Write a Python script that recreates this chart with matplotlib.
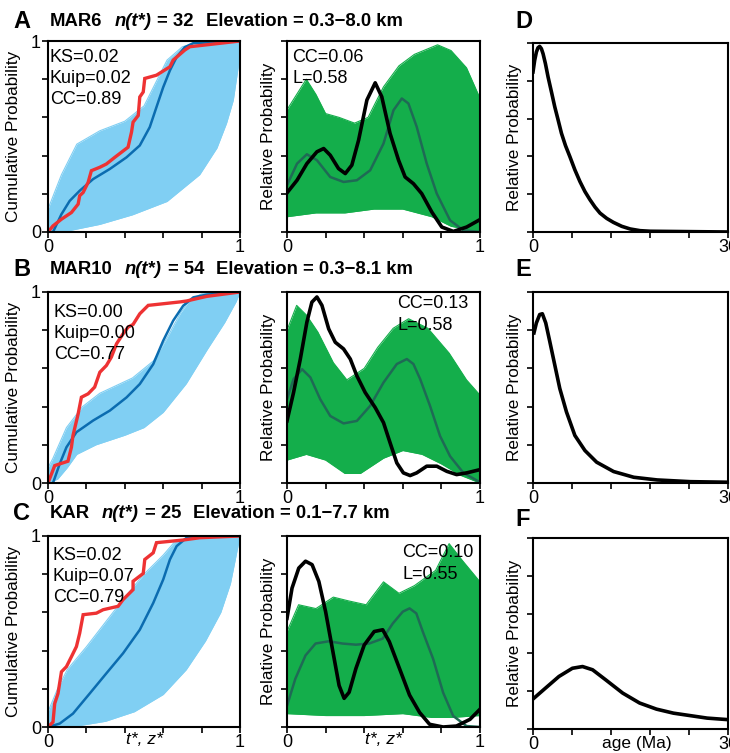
import numpy as np
import matplotlib
matplotlib.use('Agg')
import matplotlib.pyplot as plt

plt.rcParams['font.family'] = ['Liberation Sans', 'DejaVu Sans']

# ---------------- data ----------------
samples = ['MAR6', 'MAR10', 'KAR']
n_t = [32, 54, 25]
elev = ['0.3\u22128.0', '0.3\u22128.1', '0.1\u22127.7']
ks = ['0.02', '0.00', '0.02']
kuip = ['0.02', '0.00', '0.07']
cc_cdf = ['0.89', '0.77', '0.79']
cc_pdf = ['0.06', '0.13', '0.10']
l_pdf = ['0.58', '0.58', '0.55']

# observed cumulative curves (red)
red_x = [
    [0, 0.026, 0.07, 0.122, 0.157, 0.165, 0.183, 0.209, 0.226, 0.27, 0.304, 0.348, 0.417, 0.435,
     0.443, 0.47, 0.478, 0.496, 0.504, 0.565, 0.635, 0.652, 0.713, 0.739, 1.0],
    [0, 0.035, 0.061, 0.104, 0.122, 0.13, 0.157, 0.174, 0.209, 0.243, 0.27, 0.304, 0.33, 0.357,
     0.391, 0.417, 0.443, 0.478, 0.522, 0.687, 0.722, 0.774, 0.826, 1.0],
    [0, 0.026, 0.035, 0.052, 0.07, 0.096, 0.122, 0.148, 0.165, 0.183, 0.252, 0.287, 0.365, 0.391,
     0.443, 0.443, 0.496, 0.504, 0.548, 0.565, 0.704, 0.791, 1.0],
]
red_y = [
    [0, 0.032, 0.067, 0.102, 0.146, 0.19, 0.207, 0.26, 0.321, 0.339, 0.356, 0.391, 0.444, 0.523,
     0.575, 0.61, 0.707, 0.733, 0.804, 0.821, 0.865, 0.9, 0.953, 0.97, 1.0],
    [0, 0.091, 0.1, 0.114, 0.187, 0.248, 0.362, 0.449, 0.467, 0.502, 0.58, 0.615, 0.659, 0.729,
     0.781, 0.816, 0.83, 0.886, 0.93, 0.948, 0.953, 0.965, 0.977, 1.0],
    [0, 0.026, 0.123, 0.175, 0.289, 0.316, 0.368, 0.421, 0.491, 0.588, 0.596, 0.614, 0.632, 0.667,
     0.719, 0.763, 0.804, 0.877, 0.912, 0.965, 0.979, 0.991, 1.0],
]

# mean predicted cumulative curves (blue)
mean_cdf_x = [
    [0.026, 0.07, 0.113, 0.165, 0.235, 0.322, 0.409, 0.478, 0.53, 0.565, 0.6, 0.635, 0.67, 0.713, 0.757, 1.0],
    [0.026, 0.061, 0.096, 0.148, 0.235, 0.322, 0.409, 0.478, 0.548, 0.6, 0.652, 0.704, 0.757, 0.826, 1.0],
    [0, 0.061, 0.13, 0.217, 0.304, 0.391, 0.478, 0.548, 0.6, 0.635, 0.67, 0.722, 0.791, 1.0],
]
mean_cdf_y = [
    [0, 0.093, 0.163, 0.216, 0.277, 0.33, 0.391, 0.453, 0.549, 0.654, 0.758, 0.846, 0.916, 0.968, 0.989, 1.0],
    [0, 0.1, 0.187, 0.266, 0.327, 0.379, 0.448, 0.518, 0.622, 0.745, 0.85, 0.928, 0.972, 0.986, 1.0],
    [0, 0.018, 0.07, 0.175, 0.281, 0.386, 0.509, 0.649, 0.772, 0.877, 0.947, 0.991, 1.0, 1.0],
]

# spread of predicted cumulative curves (light blue)
cdf_hi_x = [
    [0, 0.07, 0.15, 0.27, 0.4, 0.5, 0.57, 0.62, 0.7, 0.8, 1.0],
    [0, 0.026, 0.096, 0.18, 0.27, 0.44, 0.55, 0.62, 0.69, 0.74, 0.8, 1.0],
    [0, 0.05, 0.1, 0.2, 0.3, 0.4, 0.5, 0.6, 0.66, 0.75, 1.0],
]
cdf_hi_y = [
    [0.12, 0.3, 0.46, 0.53, 0.58, 0.66, 0.8, 0.9, 0.97, 0.995, 1.0],
    [0.08, 0.13, 0.29, 0.4, 0.47, 0.55, 0.64, 0.76, 0.89, 0.96, 0.99, 1.0],
    [0.08, 0.2, 0.3, 0.42, 0.55, 0.68, 0.8, 0.9, 0.97, 0.99, 1.0],
]
cdf_lo_x = [
    [0, 0.1, 0.27, 0.44, 0.62, 0.79, 0.88, 0.93, 0.965, 0.99, 1.0],
    [0, 0.05, 0.1, 0.15, 0.25, 0.4, 0.5, 0.6, 0.72, 0.83, 0.92, 0.98, 1.0],
    [0, 0.15, 0.3, 0.45, 0.6, 0.72, 0.82, 0.9, 0.95, 0.98, 1.0],
]
cdf_lo_y = [
    [0, 0.005, 0.04, 0.09, 0.16, 0.3, 0.44, 0.57, 0.69, 0.86, 1.0],
    [0, 0.02, 0.08, 0.15, 0.2, 0.25, 0.29, 0.37, 0.52, 0.7, 0.84, 0.95, 1.0],
    [0, 0.005, 0.03, 0.08, 0.17, 0.3, 0.45, 0.6, 0.75, 0.9, 1.0],
]

# observed relative probability (black)
obs_x = [
    [0, 0.052, 0.103, 0.155, 0.19, 0.224, 0.267, 0.302, 0.336, 0.371, 0.414, 0.457, 0.491, 0.534,
     0.578, 0.612, 0.655, 0.698, 0.75, 0.802, 0.862, 0.931, 1.0],
    [0, 0.034, 0.069, 0.103, 0.129, 0.155, 0.181, 0.216, 0.25, 0.293, 0.328, 0.362, 0.405, 0.457,
     0.5, 0.534, 0.569, 0.603, 0.638, 0.672, 0.724, 0.776, 0.828, 0.879, 0.931, 1.0],
    [0, 0.026, 0.061, 0.096, 0.13, 0.165, 0.2, 0.235, 0.27, 0.296, 0.322, 0.357, 0.4, 0.452,
     0.496, 0.53, 0.583, 0.635, 0.687, 0.739, 0.809, 0.878, 0.948, 1.0],
]
obs_y = [
    [0.205, 0.271, 0.358, 0.42, 0.437, 0.402, 0.332, 0.306, 0.35, 0.481, 0.691, 0.781, 0.708, 0.516,
     0.376, 0.288, 0.253, 0.201, 0.105, 0.026, 0.003, 0.026, 0.065],
    [0.325, 0.474, 0.649, 0.842, 0.947, 0.974, 0.93, 0.807, 0.737, 0.702, 0.649, 0.561, 0.474, 0.395,
     0.316, 0.211, 0.105, 0.053, 0.039, 0.053, 0.088, 0.088, 0.061, 0.044, 0.053, 0.07],
    [0.569, 0.727, 0.832, 0.868, 0.85, 0.762, 0.604, 0.41, 0.217, 0.15, 0.182, 0.306, 0.429, 0.5,
     0.509, 0.447, 0.306, 0.167, 0.076, 0.014, 0.0, 0.005, 0.04, 0.093],
]

# mean predicted relative probability (dark green)
mean_pdf_x = [
    [0, 0.052, 0.103, 0.155, 0.224, 0.293, 0.362, 0.431, 0.5, 0.552, 0.595, 0.629, 0.672, 0.724,
     0.776, 0.845, 0.914, 1.0],
    [0, 0.034, 0.078, 0.121, 0.172, 0.224, 0.293, 0.362, 0.431, 0.5, 0.569, 0.621, 0.655, 0.69,
     0.741, 0.793, 0.845, 0.914, 1.0],
    [0, 0.043, 0.096, 0.148, 0.217, 0.287, 0.357, 0.426, 0.496, 0.548, 0.6, 0.635, 0.67, 0.704,
     0.757, 0.809, 0.861, 0.93, 1.0],
]
mean_pdf_y = [
    [0.245, 0.358, 0.407, 0.376, 0.288, 0.262, 0.271, 0.323, 0.463, 0.638, 0.699, 0.673, 0.551, 0.358,
     0.201, 0.061, 0.009, 0.0],
    [0.439, 0.544, 0.596, 0.553, 0.439, 0.351, 0.312, 0.325, 0.404, 0.526, 0.623, 0.649, 0.623, 0.544,
     0.404, 0.246, 0.14, 0.053, 0.004],
    [0.111, 0.252, 0.375, 0.437, 0.449, 0.437, 0.431, 0.437, 0.463, 0.542, 0.604, 0.621, 0.595, 0.498,
     0.357, 0.18, 0.058, 0.005, 0.0],
]

# spread of predicted relative probability (green)
pdf_hi_x = [
    [0, 0.05, 0.1, 0.15, 0.2, 0.27, 0.35, 0.42, 0.5, 0.58, 0.66, 0.78, 0.85, 0.93, 1.0],
    [0, 0.05, 0.1, 0.16, 0.24, 0.31, 0.4, 0.47, 0.55, 0.63, 0.73, 0.84, 0.93, 1.0],
    [0, 0.06, 0.15, 0.24, 0.32, 0.41, 0.5, 0.58, 0.66, 0.77, 0.84, 0.91, 1.0],
]
pdf_hi_y = [
    [0.64, 0.72, 0.8, 0.72, 0.62, 0.6, 0.57, 0.6, 0.76, 0.87, 0.93, 0.98, 0.95, 0.86, 0.7],
    [0.8, 0.93, 0.88, 0.79, 0.63, 0.54, 0.6, 0.71, 0.81, 0.86, 0.81, 0.68, 0.54, 0.46],
    [0.5, 0.64, 0.62, 0.68, 0.66, 0.64, 0.76, 0.7, 0.74, 0.82, 0.96, 0.87, 0.76],
]
pdf_lo_x = [
    [0, 0.15, 0.3, 0.45, 0.6, 0.75, 0.85, 0.95, 1.0],
    [0, 0.1, 0.2, 0.3, 0.38, 0.5, 0.6, 0.7, 0.8, 0.9, 1.0],
    [0, 0.2, 0.4, 0.6, 0.75, 0.85, 1.0],
]
pdf_lo_y = [
    [0.08, 0.1, 0.1, 0.12, 0.12, 0.08, 0.03, 0.01, 0.0],
    [0.12, 0.15, 0.12, 0.05, 0.05, 0.13, 0.17, 0.15, 0.1, 0.04, 0.0],
    [0.07, 0.06, 0.06, 0.07, 0.05, 0.05, 0.06],
]

# age distributions (right column)
age_x = [
    [0, 0.26, 0.52, 0.77, 1.03, 1.29, 1.55, 1.91, 2.32, 2.84, 3.35, 3.87, 4.38, 5.0, 5.67, 6.44,
     7.22, 7.99, 8.76, 9.54, 10.31, 11.34, 12.37, 13.66, 14.95, 16.49, 18.04, 30.0],
    [0.15, 0.52, 1.03, 1.44, 1.96, 2.58, 3.35, 4.12, 5.15, 6.44, 7.99, 9.79, 12.4, 15.5, 19.1, 24.2, 30.0],
    [0, 1.92, 3.99, 6.06, 7.62, 9.17, 11.2, 13.8, 16.4, 19.0, 21.6, 24.2, 26.8, 30.0],
]
age_y = [
    [0.847, 0.909, 0.952, 0.975, 0.982, 0.970, 0.943, 0.891, 0.82, 0.741, 0.662, 0.592, 0.522, 0.457,
     0.399, 0.329, 0.267, 0.214, 0.171, 0.132, 0.1, 0.072, 0.051, 0.03, 0.016, 0.007, 0.004, 0.0],
    [0.786, 0.838, 0.882, 0.886, 0.838, 0.741, 0.618, 0.495, 0.372, 0.249, 0.17, 0.109, 0.06, 0.03,
     0.016, 0.007, 0.004],
    [0.157, 0.214, 0.275, 0.318, 0.327, 0.31, 0.257, 0.188, 0.136, 0.104, 0.083, 0.07, 0.057, 0.049],
]

row_letters = ['A', 'B', 'C']
right_letters = ['D', 'E', 'F']

# ---------------- layout ----------------
W, H = 730, 753
fig = plt.figure(figsize=(W / 100, H / 100), dpi=100)

def px_axes(left, top, right, bottom):
    return fig.add_axes([left / W, 1 - bottom / H, (right - left) / W, (bottom - top) / H])

row_tops = [41, 292, 536]
row_bots = [232, 483, 727]
title_y = [21, 270, 514]
right_tops = [43, 292, 538]
right_bots = [232, 483, 729]
right_letter_y = [21, 270, 519]

LIGHT_BLUE = '#80CFF3'
BLUE = '#0B6CB0'
RED = '#EE3233'
GREEN = '#14AE4B'
DARK_GREEN = '#1F6A55'

def style(ax, xmax, xticks, xlabels):
    for s in ax.spines.values():
        s.set_linewidth(1.5)
        s.set_zorder(10)
    ax.set_xlim(0, xmax)
    ax.set_ylim(0, 1)
    ax.set_xticks(xticks)
    ax.set_xticklabels(xlabels)
    ax.set_yticks(np.linspace(0, 1, 6))
    ax.tick_params(direction='out', length=4, width=1.2, labelsize=13, pad=1)

def ylab(ax, text, xpos):
    ax.text(xpos, 0.5, text, transform=ax.transAxes, rotation=90,
            ha='center', va='center', fontsize=12.3)

tick01 = ['0', '', '', '', '', '1']

for i in range(3):
    top, bot = row_tops[i], row_bots[i]

    # title pieces
    fig.text(13 / W, 1 - title_y[i] / H, row_letters[i], fontsize=17, fontweight='bold',
             va='center', ha='left')
    fig.canvas.draw()
    rend = fig.canvas.get_renderer()
    x = 50
    pieces = [(samples[i], 'normal'), ('n(t*)', 'italic'),
              ('= %d' % n_t[i], 'normal'), ('Elevation = %s km' % elev[i], 'normal')]
    gaps = [12, 6, 12, 0]
    for (txt, st), g in zip(pieces, gaps):
        t = fig.text(x / W, 1 - title_y[i] / H, txt, fontsize=13.3, fontweight='bold',
                     style=st, va='center', ha='left')
        bb = t.get_window_extent(renderer=rend)
        x = bb.x1 + g

    # cumulative panel
    ax = px_axes(48, top, 240, bot)
    gx = np.linspace(0, 1, 201)
    lo = np.interp(gx, cdf_lo_x[i], cdf_lo_y[i])
    hi = np.interp(gx, cdf_hi_x[i], cdf_hi_y[i])
    ax.fill_between(gx, lo, hi, color=LIGHT_BLUE, lw=0)
    ax.plot(cdf_lo_x[i], cdf_lo_y[i], color=LIGHT_BLUE, lw=0.8)
    ax.plot(cdf_hi_x[i], cdf_hi_y[i], color=LIGHT_BLUE, lw=0.8)
    ax.plot(mean_cdf_x[i], mean_cdf_y[i], color=BLUE, lw=1.8)
    ax.plot(red_x[i], red_y[i], color=RED, lw=2.4, solid_joinstyle='miter')
    style(ax, 1, np.linspace(0, 1, 6), tick01)
    ax.set_yticklabels(tick01)
    ylab(ax, 'Cumulative Probability', -0.182)
    sx = [0.01, 0.03, 0.026][i]
    sy = [0.916, 0.895, 0.90][i]
    for k, s in enumerate(['KS=' + ks[i], 'Kuip=' + kuip[i], 'CC=' + cc_cdf[i]]):
        ax.text(sx, sy - k * 0.112, s, transform=ax.transAxes, fontsize=13,
                ha='left', va='center', zorder=20)

    # relative probability panel
    ax2 = px_axes(287, top, 480, bot)
    lo = np.interp(gx, pdf_lo_x[i], pdf_lo_y[i])
    hi = np.interp(gx, pdf_hi_x[i], pdf_hi_y[i])
    ax2.fill_between(gx, lo, hi, color=GREEN, lw=0)
    ax2.plot(pdf_hi_x[i], pdf_hi_y[i], color=GREEN, lw=0.8)
    ax2.plot(pdf_lo_x[i], pdf_lo_y[i], color=GREEN, lw=0.8)
    ax2.plot(mean_pdf_x[i], mean_pdf_y[i], color=DARK_GREEN, lw=1.8)
    ax2.plot(obs_x[i], obs_y[i], color='black', lw=2.6)
    style(ax2, 1, np.linspace(0, 1, 6), tick01)
    ax2.set_yticklabels([])
    ylab(ax2, 'Relative Probability', -0.098)
    cx = [0.026, 0.57, 0.596][i]
    cy = [(0.916, 0.806), (0.942, 0.822), (0.916, 0.80)][i]
    ax2.text(cx, cy[0], 'CC=' + cc_pdf[i], transform=ax2.transAxes, fontsize=13,
             ha='left', va='center', zorder=20)
    ax2.text(cx, cy[1], 'L=' + l_pdf[i], transform=ax2.transAxes, fontsize=13,
             ha='left', va='center', zorder=20)

    # age panel
    ax3 = px_axes(533, right_tops[i], 728, right_bots[i])
    ax3.plot(age_x[i], age_y[i], color='black', lw=2.6)
    style(ax3, 30, np.linspace(0, 30, 6), ['0', '', '', '', '', '30'])
    ax3.set_yticklabels([])
    ylab(ax3, 'Relative Probability', -0.093)
    fig.text(515 / W, 1 - right_letter_y[i] / H, right_letters[i], fontsize=17,
             fontweight='bold', va='center', ha='left')

    if i == 2:
        for a in (ax, ax2):
            a.text(0.5, -0.068, 't*, z*', transform=a.transAxes, fontsize=12.5,
                   style='italic', ha='center', va='center')
        ax3.text(0.53, -0.075, 'age (Ma)', transform=ax3.transAxes, fontsize=12.5,
                 ha='center', va='center')

fig.savefig('out.png', dpi=100)
